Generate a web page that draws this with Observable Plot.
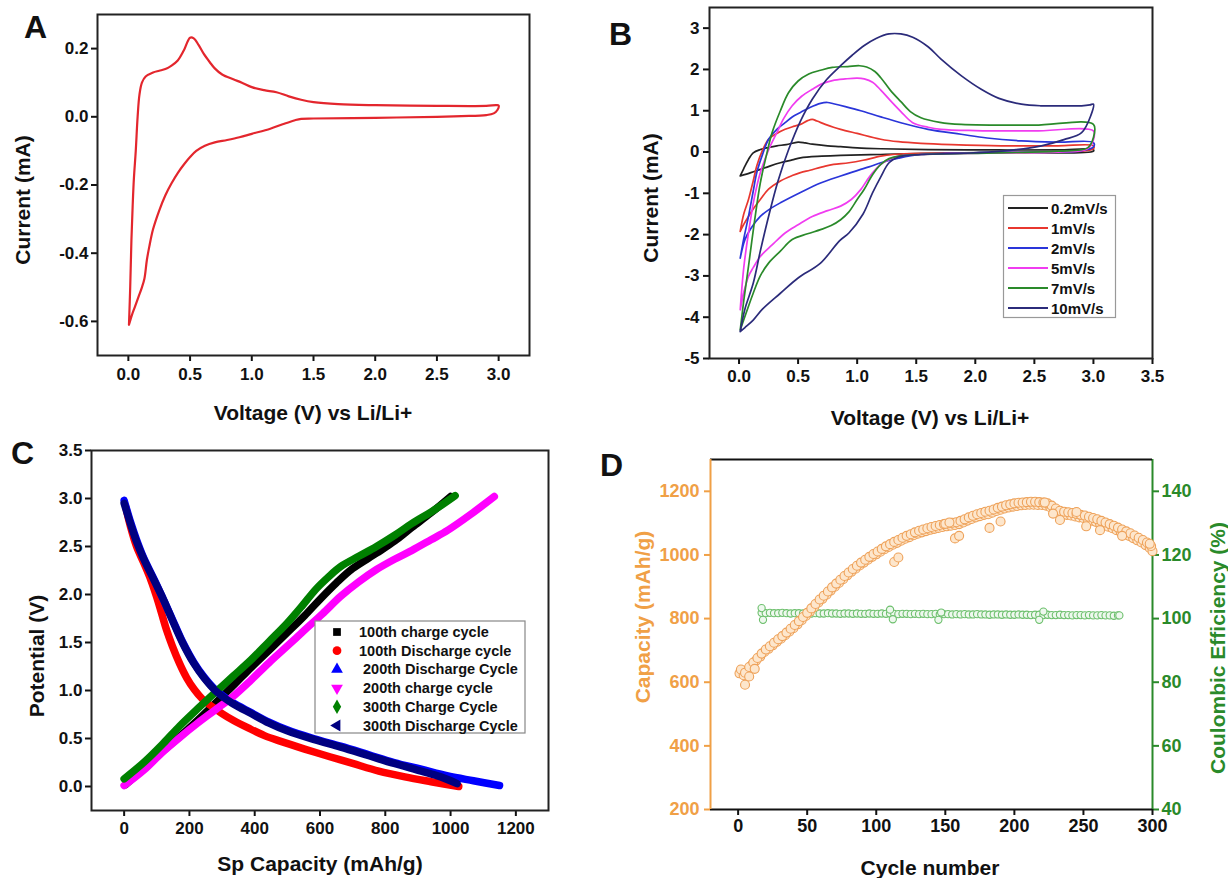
<!DOCTYPE html>
<html><head><meta charset="utf-8">
<script src="https://cdn.jsdelivr.net/npm/d3@7"></script>
<script src="https://cdn.jsdelivr.net/npm/@observablehq/plot@0.6"></script>
<style>
html,body{margin:0;padding:0;background:#fff;}
#root{position:relative;width:1228px;height:878px;overflow:hidden;font-family:"Liberation Sans",Arial,sans-serif;font-weight:bold;}
.panel{position:absolute;}
.panel svg{background:transparent;}
g[aria-label$="tick"] path{stroke-width:2px;}
</style></head><body><div id="root"></div>
<script>
// ---------------- DATA ----------------
// Panel A: CV loop (V, mA)
const cvA = [[0.005,-0.61],[0.015,-0.50],[0.025,-0.36],[0.035,-0.26],[0.045,-0.18],[0.06,-0.10],[0.075,0.0],[0.09,0.065],[0.11,0.10],[0.14,0.118],[0.2,0.13],[0.25,0.135],[0.3,0.14],[0.35,0.15],[0.4,0.165],[0.45,0.195],[0.5,0.232],[0.53,0.23],[0.57,0.21],[0.61,0.185],[0.66,0.16],[0.7,0.142],[0.76,0.124],[0.85,0.11],[0.92,0.10],[1.0,0.087],[1.1,0.078],[1.2,0.072],[1.3,0.06],[1.4,0.05],[1.5,0.043],[1.7,0.037],[2.0,0.034],[2.5,0.032],[2.9,0.032],[2.98,0.034],[3.0,0.033],[2.99,0.02],[2.96,0.01],[2.9,0.005],[2.7,0.002],[2.5,0.0],[2.0,-0.003],[1.5,-0.005],[1.4,-0.006],[1.35,-0.01],[1.25,-0.022],[1.15,-0.035],[1.0,-0.05],[0.9,-0.06],[0.8,-0.068],[0.7,-0.075],[0.62,-0.085],[0.55,-0.10],[0.5,-0.118],[0.45,-0.14],[0.4,-0.165],[0.35,-0.195],[0.3,-0.23],[0.25,-0.275],[0.2,-0.33],[0.17,-0.38],[0.15,-0.42],[0.13,-0.475],[0.11,-0.50],[0.08,-0.53],[0.05,-0.56],[0.03,-0.58],[0.005,-0.61]];
const ticksAx = [0,0.5,1.0,1.5,2.0,2.5,3.0];
const ticksAy = [-0.6,-0.4,-0.2,0,0.2];

// Panel B: CV at scan rates
const rateLabels = ["0.2mV/s","1mV/s","2mV/s","5mV/s","7mV/s","10mV/s"];
const rateColors = ["#222222","#e8372f","#2a35d9","#f03cf0","#2a8a2a","#2b2b7a"];
const cv02 = [[0.01,-0.58],[0.04,-0.4],[0.08,-0.18],[0.12,-0.02],[0.18,0.06],[0.25,0.11],[0.32,0.15],[0.4,0.18],[0.5,0.24],[0.56,0.22],[0.62,0.19],[0.75,0.15],[0.86,0.13],[1.0,0.10],[1.2,0.08],[1.6,0.06],[2.2,0.05],[2.7,0.05],[3.0,0.06],[3.0,0.02],[2.2,-0.01],[1.6,-0.03],[1.2,-0.06],[0.86,-0.08],[0.7,-0.10],[0.52,-0.14],[0.45,-0.19],[0.35,-0.26],[0.26,-0.34],[0.18,-0.42],[0.1,-0.5],[0.01,-0.58]];
const cv1 = [[0.01,-1.92],[0.04,-1.5],[0.08,-1.15],[0.12,-0.7],[0.15,-0.34],[0.2,0.05],[0.25,0.31],[0.32,0.45],[0.39,0.55],[0.46,0.62],[0.52,0.67],[0.58,0.76],[0.62,0.79],[0.66,0.75],[0.73,0.67],[0.8,0.6],[0.86,0.55],[1.0,0.45],[1.2,0.31],[1.35,0.25],[1.54,0.21],[1.8,0.18],[2.22,0.15],[2.7,0.15],[3.0,0.15],[3.0,0.08],[2.9,0.02],[2.5,0.0],[2.22,-0.02],[1.54,-0.03],[1.3,-0.06],[1.2,-0.1],[1.05,-0.2],[0.93,-0.26],[0.8,-0.3],[0.73,-0.34],[0.6,-0.44],[0.52,-0.5],[0.45,-0.57],[0.35,-0.7],[0.25,-0.9],[0.18,-1.15],[0.12,-1.38],[0.08,-1.56],[0.04,-1.75],[0.01,-1.92]];
const cv2 = [[0.01,-2.57],[0.04,-2.1],[0.08,-1.56],[0.12,-0.95],[0.15,-0.5],[0.2,-0.05],[0.25,0.31],[0.32,0.55],[0.39,0.71],[0.45,0.85],[0.52,0.96],[0.6,1.08],[0.69,1.18],[0.75,1.2],[0.8,1.17],[0.9,1.1],[1.03,1.0],[1.2,0.85],[1.37,0.71],[1.6,0.55],[1.88,0.43],[2.1,0.34],[2.39,0.27],[2.7,0.24],[3.0,0.23],[3.0,0.12],[2.9,0.03],[2.5,0.0],[2.0,-0.02],[1.54,-0.06],[1.35,-0.15],[1.2,-0.26],[1.1,-0.36],[1.03,-0.42],[0.86,-0.58],[0.69,-0.75],[0.52,-0.98],[0.35,-1.23],[0.25,-1.4],[0.18,-1.56],[0.1,-1.85],[0.05,-2.12],[0.01,-2.57]];
const cv5 = [[0.01,-3.82],[0.04,-2.8],[0.08,-1.96],[0.13,-1.1],[0.18,-0.5],[0.25,0.05],[0.32,0.47],[0.38,0.82],[0.45,1.12],[0.53,1.35],[0.62,1.52],[0.7,1.65],[0.79,1.73],[0.9,1.77],[1.0,1.79],[1.06,1.77],[1.13,1.69],[1.2,1.5],[1.27,1.28],[1.37,0.98],[1.47,0.71],[1.6,0.6],[1.71,0.55],[2.0,0.52],[2.5,0.51],[3.0,0.51],[3.0,0.3],[2.95,0.08],[2.7,0.0],[2.22,-0.02],[1.54,-0.06],[1.35,-0.1],[1.27,-0.18],[1.2,-0.3],[1.13,-0.5],[1.08,-0.7],[1.03,-0.91],[0.95,-1.15],[0.86,-1.31],[0.75,-1.42],[0.62,-1.56],[0.5,-1.76],[0.39,-1.96],[0.28,-2.25],[0.18,-2.53],[0.12,-2.8],[0.08,-3.01],[0.04,-3.4],[0.01,-3.82]];
const cv7 = [[0.01,-4.31],[0.04,-3.6],[0.08,-2.77],[0.13,-1.7],[0.18,-0.75],[0.23,-0.1],[0.28,0.47],[0.35,1.0],[0.42,1.44],[0.5,1.72],[0.59,1.89],[0.69,1.98],[0.79,2.05],[0.92,2.07],[1.02,2.09],[1.08,2.06],[1.15,1.95],[1.2,1.8],[1.28,1.5],[1.37,1.22],[1.45,0.98],[1.54,0.83],[1.7,0.72],[1.88,0.67],[2.5,0.65],[3.0,0.67],[3.0,0.35],[2.95,0.1],[2.7,0.02],[2.2,-0.02],[1.54,-0.06],[1.35,-0.1],[1.27,-0.16],[1.2,-0.3],[1.13,-0.55],[1.06,-0.9],[1.0,-1.15],[0.93,-1.45],[0.86,-1.64],[0.78,-1.78],[0.69,-1.88],[0.58,-1.98],[0.45,-2.12],[0.35,-2.4],[0.25,-2.69],[0.18,-3.0],[0.12,-3.42],[0.06,-3.9],[0.01,-4.31]];
const cv10 = [[0.01,-4.35],[0.05,-3.8],[0.12,-3.18],[0.18,-2.4],[0.25,-1.56],[0.33,-0.7],[0.42,0.06],[0.52,0.75],[0.62,1.28],[0.74,1.75],[0.86,2.09],[0.96,2.35],[1.06,2.58],[1.16,2.75],[1.27,2.86],[1.37,2.86],[1.47,2.78],[1.6,2.55],[1.71,2.25],[1.88,1.85],[2.05,1.52],[2.2,1.3],[2.39,1.16],[2.55,1.12],[2.73,1.12],[2.9,1.12],[2.97,1.14],[3.0,1.16],[2.98,0.9],[2.9,0.47],[2.75,0.3],[2.56,0.15],[2.22,0.02],[1.9,-0.03],[1.54,-0.06],[1.35,-0.12],[1.27,-0.26],[1.2,-0.6],[1.13,-0.99],[1.05,-1.5],[0.93,-1.96],[0.85,-2.15],[0.69,-2.69],[0.5,-3.05],[0.35,-3.42],[0.2,-3.8],[0.12,-4.07],[0.05,-4.25],[0.01,-4.35]];
const ticksBx = [0,0.5,1.0,1.5,2.0,2.5,3.0,3.5];
const ticksBy = [-5,-4,-3,-2,-1,0,1,2,3];

// Panel C: charge/discharge (mAh/g, V)
const cycLabels = ["100th charge cycle","100th Discharge cycle"," 200th Discharge Cycle"," 200th charge cycle"," 300th Charge Cycle"," 300th Discharge Cycle"];
const cycColors = ["#000000","#ff0000","#0000ff","#ff00ff","#008000","#000080"];
const charge100 = [[5,0.02],[60,0.19],[115,0.36],[170,0.52],[225,0.69],[280,0.87],[334,1.05],[389,1.24],[444,1.42],[499,1.6],[553,1.78],[600,1.95],[650,2.12],[700,2.27],[773,2.43],[830,2.56],[882,2.7],[940,2.85],[1000,3.02]];
const discharge100 = [[5,2.91],[20,2.7],[38,2.5],[60,2.33],[82,2.15],[100,1.97],[115,1.8],[130,1.63],[148,1.46],[170,1.28],[192,1.13],[215,1.01],[240,0.91],[270,0.83],[300,0.76],[334,0.69],[380,0.61],[430,0.53],[480,0.47],[553,0.39],[630,0.31],[700,0.24],[780,0.16],[860,0.1],[940,0.05],[1025,0.0]];
const discharge200 = [[0,2.98],[20,2.75],[38,2.57],[60,2.38],[93,2.15],[120,1.95],[148,1.74],[180,1.5],[214,1.29],[245,1.14],[279,1.01],[330,0.88],[389,0.77],[444,0.67],[499,0.59],[580,0.5],[663,0.42],[750,0.33],[827,0.25],[910,0.18],[992,0.11],[1070,0.06],[1150,0.01]];
const charge200 = [[0,0.01],[60,0.17],[115,0.35],[170,0.51],[225,0.66],[280,0.8],[334,0.94],[389,1.11],[444,1.29],[499,1.46],[553,1.63],[608,1.8],[663,1.98],[718,2.13],[773,2.26],[830,2.37],[882,2.46],[940,2.57],[992,2.67],[1060,2.83],[1134,3.02]];
const charge300 = [[0,0.08],[60,0.25],[120,0.45],[170,0.63],[225,0.81],[279,0.98],[334,1.15],[389,1.32],[444,1.51],[499,1.70],[545,1.88],[586,2.05],[625,2.18],[663,2.29],[720,2.4],[773,2.5],[830,2.62],[882,2.74],[950,2.88],[1014,3.03]];
const discharge300 = [[0,2.95],[20,2.73],[38,2.55],[60,2.37],[93,2.14],[120,1.95],[148,1.73],[180,1.49],[214,1.28],[245,1.13],[279,1.0],[330,0.87],[389,0.76],[444,0.66],[499,0.58],[580,0.49],[663,0.41],[750,0.32],[827,0.24],[910,0.16],[970,0.1],[1020,0.03]];
const ticksCx = [0,200,400,600,800,1000,1200];
const ticksCy = [0,0.5,1.0,1.5,2.0,2.5,3.0,3.5];

// Panel D: capacity (mAh/g) and coulombic efficiency (%) vs cycle
const capacity = [[1,628],[4,622],[7,640],[10,655],[13,668],[16,680],[19,695],[22,705],[25,716],[28,727],[31,737],[34,748],[37,759],[40,770],[43,782],[46,795],[49,808],[52,822],[55,836],[58,850],[61,862],[64,875],[67,888],[70,900],[73,912],[76,924],[79,936],[82,947],[85,957],[88,967],[91,976],[94,985],[97,994],[100,1002],[103,1010],[106,1018],[109,1025],[112,1032],[115,1038],[118,1045],[121,1051],[124,1056],[127,1062],[130,1067],[133,1071],[136,1075],[139,1079],[142,1082],[145,1085],[148,1088],[151,1090],[154,1092],[157,1094],[160,1097],[163,1102],[166,1108],[169,1113],[172,1118],[175,1122],[178,1126],[181,1128],[184,1133],[187,1138],[190,1142],[193,1146],[196,1149],[199,1152],[202,1154],[205,1156],[208,1157],[211,1158],[214,1158],[217,1157],[220,1157],[223,1155],[226,1150],[229,1140],[232,1132],[235,1128],[238,1126],[241,1124],[244,1121],[247,1118],[250,1116],[253,1112],[256,1108],[259,1104],[262,1099],[265,1094],[268,1089],[271,1084],[274,1078],[277,1072],[280,1066],[283,1060],[286,1053],[289,1046],[292,1039],[295,1031],[298,1022],[300,1012]];
const capacityUpper = [[2,640],[5,630],[8,648],[11,662],[14,676],[17,690],[20,703],[23,713],[26,724],[29,735],[32,745],[35,756],[38,768],[41,780],[44,792],[47,805],[50,818],[53,832],[56,846],[59,860],[62,872],[65,885],[68,898],[71,910],[74,922],[77,934],[80,945],[83,956],[86,966],[89,976],[92,985],[95,994],[98,1003],[101,1011],[104,1019],[107,1027],[110,1034],[113,1041],[116,1047],[119,1054],[122,1060],[125,1065],[128,1071],[131,1076],[134,1080],[137,1084],[140,1088],[143,1091],[146,1094],[149,1097],[152,1099],[155,1101],[158,1103],[161,1107],[164,1112],[167,1118],[170,1123],[173,1128],[176,1132],[179,1136],[182,1139],[185,1143],[188,1148],[191,1152],[194,1156],[197,1159],[200,1162],[203,1164],[206,1165],[209,1166],[212,1167],[215,1167],[218,1166],[221,1165],[224,1162],[227,1155],[230,1146],[233,1139],[236,1136],[239,1134],[242,1132],[245,1129],[248,1126],[251,1124],[254,1120],[257,1116],[260,1112],[263,1107],[266,1102],[269,1097],[272,1092],[275,1086],[278,1080],[281,1074],[284,1068],[287,1061],[290,1054],[293,1047],[296,1039],[299,1028]];
const capacityOutliers = [[5,592],[8,618],[12,642],[113,978],[116,992],[150,1098],[153,1102],[157,1052],[160,1060],[182,1085],[190,1105],[222,1165],[228,1130],[233,1110],[245,1135],[252,1090],[262,1078],[278,1060],[298,1035]];
const efficiency = [[17,101.8],[20,101.7],[23,101.8],[26,101.7],[29,101.7],[32,101.8],[35,101.7],[38,101.6],[41,101.7],[44,101.7],[47,101.6],[50,101.7],[53,101.6],[56,101.7],[59,101.6],[62,101.6],[65,101.7],[68,101.6],[71,101.6],[74,101.5],[77,101.6],[80,101.6],[83,101.5],[86,101.6],[89,101.5],[92,101.5],[95,101.6],[98,101.5],[101,101.5],[104,101.6],[107,101.5],[110,101.6],[113,101.5],[116,101.4],[119,101.5],[122,101.5],[125,101.4],[128,101.5],[131,101.4],[134,101.5],[137,101.4],[140,101.4],[143,101.5],[146,101.3],[149,101.4],[152,101.4],[155,101.3],[158,101.4],[161,101.3],[164,101.4],[167,101.3],[170,101.3],[173,101.4],[176,101.3],[179,101.3],[182,101.2],[185,101.3],[188,101.3],[191,101.2],[194,101.3],[197,101.2],[200,101.2],[203,101.3],[206,101.2],[209,101.2],[212,101.1],[215,101.2],[218,101.2],[221,101.1],[224,101.2],[227,101.1],[230,101.1],[233,101.2],[236,101.1],[239,101.1],[242,101.0],[245,101.1],[248,101.1],[251,101.0],[254,101.1],[257,101.0],[260,101.0],[263,101.1],[266,101.0],[269,101.0],[272,100.9],[275,101.0]];
const efficiencyOutliers = [[17,103.3],[18,99.6],[110,102.8],[112,99.8],[145,99.6],[147,101.9],[218,99.6],[221,102.2],[276,101.0]];
const ticksDx = [0,50,100,150,200,250,300];
const ticksDcap = [200,400,600,800,1000,1200];
const ticksDce = [40,60,80,100,120,140];

// ---------------- RENDER ----------------
const FONT = '"Liberation Sans", Arial, Helvetica, sans-serif';
const ORANGE = "#f0a046", GREEN = "#2a8a2a";
const root = document.getElementById("root");
function mount(svg, x, y, w, h) {
  const d = document.createElement("div");
  d.className = "panel";
  Object.assign(d.style, {left: x + "px", top: y + "px", width: w + "px", height: h + "px"});
  d.appendChild(svg); root.appendChild(d);
}
const baseStyle = (size) => ({fontFamily: FONT, fontSize: size + "px", fontWeight: "bold", background: "transparent", color: "#111", overflow: "visible"});
const f1 = d => d.toFixed(1);
const f0 = d => d.toFixed(0);

// Panel A
mount(Plot.plot({
  width: 600, height: 440, marginLeft: 97, marginRight: 71, marginTop: 14, marginBottom: 85,
  style: baseStyle(17),
  x: {domain: [-0.25, 3.25]}, y: {domain: [-0.7, 0.3]},
  marks: [
    Plot.axisX(ticksAx, {tickFormat: f1, tickSize: 6, tickPadding: 6, label: null}),
    Plot.axisY(ticksAy, {tickFormat: f1, tickSize: 6, tickPadding: 3, label: null}),
    Plot.frame({stroke: "#222", strokeWidth: 2}),
    Plot.line(cvA, {stroke: "#e3262d", strokeWidth: 2.2, curve: "catmull-rom"})
  ]
}), 0, 0, 600, 440);

// Panel B
const cvB = [cv02, cv1, cv2, cv5, cv7, cv10];
mount(Plot.plot({
  width: 628, height: 440, marginLeft: 109, marginRight: 76, marginTop: 7, marginBottom: 82,
  style: baseStyle(17),
  x: {domain: [-0.25, 3.5]}, y: {domain: [-5, 3.5]},
  marks: [
    Plot.axisX(ticksBx, {tickFormat: f1, tickSize: 6, tickPadding: 5, label: null}),
    Plot.axisY(ticksBy, {tickFormat: f0, tickSize: 6, tickPadding: 4, label: null}),
    Plot.frame({stroke: "#222", strokeWidth: 2}),
    ...cvB.map((s, i) => Plot.line(s, {stroke: rateColors[i], strokeWidth: 1.7, curve: "catmull-rom"}))
  ]
}), 600, 0, 628, 440);

// Panel C
const seriesC = [charge100, discharge100, discharge200, charge200, charge300, discharge300];
mount(Plot.plot({
  width: 600, height: 438, marginLeft: 91, marginRight: 52, marginTop: 10, marginBottom: 68,
  style: baseStyle(17),
  x: {domain: [-100, 1300]}, y: {domain: [-0.25, 3.5]},
  marks: [
    Plot.axisX(ticksCx, {tickFormat: f0, tickSize: 6, tickPadding: 5, label: null}),
    Plot.axisY(ticksCy, {tickFormat: f1, tickSize: 6, tickPadding: 3, label: null}),
    Plot.frame({stroke: "#222", strokeWidth: 2}),
    ...seriesC.map((s, i) => Plot.line(s, {stroke: cycColors[i], strokeWidth: 7.5, strokeLinejoin: "round", strokeLinecap: "round", curve: "catmull-rom"}))
  ]
}), 0, 440, 600, 438);

// Panel D (efficiency layer underneath, capacity on top)
mount(Plot.plot({
  width: 628, height: 438, marginLeft: 110, marginRight: 76, marginTop: 19, marginBottom: 69,
  style: baseStyle(18),
  x: {domain: [-20, 300], axis: null}, y: {domain: [40, 150]},
  marks: [
    Plot.axisY(ticksDce, {anchor: "right", color: GREEN, tickSize: 6, tickPadding: 3, label: null}),
    Plot.ruleX([300], {stroke: GREEN, strokeWidth: 2}),
    Plot.line(efficiency, {stroke: "#4fae4f", strokeWidth: 1.5}),
    Plot.dot(efficiency.concat(efficiencyOutliers), {r: 3.6, stroke: "#6cbf6c", strokeWidth: 1.1, fill: "#eef8ee"})
  ]
}), 600, 440, 628, 438);
mount(Plot.plot({
  width: 628, height: 438, marginLeft: 110, marginRight: 76, marginTop: 19, marginBottom: 69,
  style: baseStyle(18),
  x: {domain: [-20, 300]}, y: {domain: [200, 1300]},
  marks: [
    Plot.axisX(ticksDx, {tickFormat: f0, tickSize: 6, tickPadding: 4, label: null}),
    Plot.axisY(ticksDcap, {color: ORANGE, tickFormat: f0, tickSize: 6, tickPadding: 5, label: null}),
    Plot.ruleY([1300], {stroke: "#111", strokeWidth: 2}),
    Plot.ruleY([200], {stroke: "#111", strokeWidth: 2}),
    Plot.ruleX([-20], {stroke: ORANGE, strokeWidth: 2}),
    Plot.line(capacity, {stroke: "#f3b070", strokeWidth: 1.5}),
    Plot.dot(capacity.concat(capacityUpper, capacityOutliers), {r: 4.5, stroke: "#eea25a", strokeWidth: 1.1, fill: "#fde6cc"})
  ]
}), 600, 440, 628, 438);

// ---------------- TEXT OVERLAY & LEGENDS ----------------
const ov = d3.create("svg").attr("width", 1228).attr("height", 878)
  .style("position", "absolute").style("left", "0px").style("top", "0px")
  .style("font-family", FONT).style("font-weight", "bold").style("pointer-events", "none");
root.appendChild(ov.node());
function txt(x, y, s, size, opts = {}) {
  const t = ov.append("text").attr("x", x).attr("y", y).text(s).attr("font-size", size)
    .attr("fill", opts.fill || "#111").attr("text-anchor", opts.anchor || "middle")
    .attr("dominant-baseline", opts.baseline || "central");
  if (opts.rotate) t.attr("transform", `rotate(-90 ${x} ${y})`);
  return t;
}
// panel letters
txt(24, 38, "A", 32, {anchor: "start", baseline: "alphabetic"});
txt(609, 45, "B", 32, {anchor: "start", baseline: "alphabetic"});
txt(11, 464, "C", 32, {anchor: "start", baseline: "alphabetic"});
txt(600, 476, "D", 32, {anchor: "start", baseline: "alphabetic"});
// axis titles
txt(313, 412, "Voltage (V) vs Li/Li+", 21);
txt(22, 200, "Current (mA)", 21, {rotate: true});
txt(930, 417, "Voltage (V) vs Li/Li+", 21);
txt(650, 198, "Current (mA)", 21, {rotate: true});
txt(320, 863, "Sp Capacity (mAh/g)", 21);
txt(36, 656, "Potential (V)", 21, {rotate: true});
txt(930, 867, "Cycle number", 21);
txt(642, 617, "Capacity (mAh/g)", 21, {rotate: true, fill: ORANGE});
txt(1217, 648, "Coulombic Efficiency (%)", 21, {rotate: true, fill: GREEN});

// legend B
ov.append("rect").attr("x", 1003.5).attr("y", 195.5).attr("width", 112).attr("height", 122)
  .attr("fill", "#fff").attr("stroke", "#999").attr("stroke-width", 1.2);
rateLabels.forEach((lab, i) => {
  const y = 208 + i * 20;
  ov.append("line").attr("x1", 1008).attr("x2", 1048).attr("y1", y).attr("y2", y)
    .attr("stroke", rateColors[i]).attr("stroke-width", 1.8);
  txt(1051, y, lab, 15, {anchor: "start"});
});

// legend C
ov.append("rect").attr("x", 315).attr("y", 621).attr("width", 210).attr("height", 112)
  .attr("fill", "#fff").attr("stroke", "#888").attr("stroke-width", 1.2);
const symTypes = [d3.symbolSquare, d3.symbolCircle, d3.symbolTriangle, d3.symbolTriangle, d3.symbolDiamond, d3.symbolTriangle];
const symRot = [0, 0, 0, 180, 0, -90];
cycLabels.forEach((lab, i) => {
  const y = 632 + i * 18.7;
  ov.append("path").attr("d", d3.symbol(symTypes[i], 60)())
    .attr("transform", `translate(337,${y}) rotate(${symRot[i]})`).attr("fill", cycColors[i]);
  const t = txt(359, y, lab, 14.5, {anchor: "start"});
  t.attr("xml:space", "preserve").style("white-space", "pre");
});
</script></body></html>
